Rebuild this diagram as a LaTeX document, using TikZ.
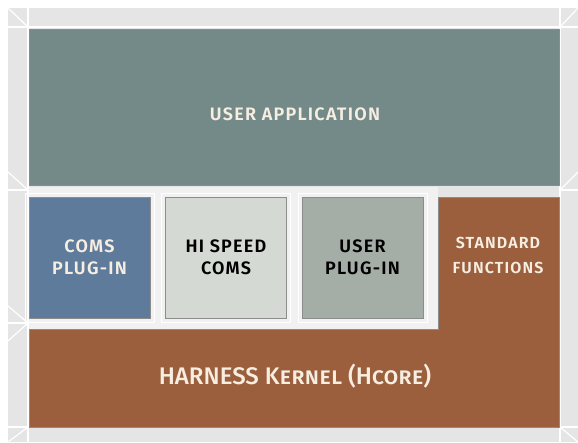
\documentclass[tikz,border=0pt]{standalone}
\usepackage{fontspec}
\setmainfont{Fira Sans}
\newfontfamily\boxfont[LetterSpace=7, BoldFont={Fira Sans SemiBold}]{Fira Sans}
\newfontfamily\kernelfont{Fira Sans Medium}
\usetikzlibrary{positioning}

\definecolor{bggray}{HTML}{E5E5E5}
\definecolor{bandwhite}{HTML}{F1F1F1}
\definecolor{appgray}{HTML}{748A88}
\definecolor{comsblue}{HTML}{5E7B9B}
\definecolor{speedgray}{HTML}{D4D9D3}
\definecolor{plugingray}{HTML}{A5ADA7}
\definecolor{kernelbrown}{HTML}{9C5F3D}
\definecolor{textcream}{HTML}{F7EEE2}

\tikzset{
	layerbox/.style={draw=black!45, line width=0.8pt, inner sep=0pt, outer sep=0pt,
		align=center, font=\boxfont\bfseries\fontsize{18}{22}\selectfont},
	plugbox/.style={layerbox, minimum width=121pt, minimum height=121pt, anchor=north west},
	gridline/.style={white, line width=1.2pt},
}

\begin{document}
\begin{tikzpicture}[x=1pt, y=-1pt]
	\def\XMIN{29}
	\def\XMAX{559}

	\useasboundingbox (0,0) rectangle (578,442);

	%背景
	\fill [bggray] (8,8) rectangle (578,442);
	\fill [bandwhite] (28,187) rectangle (438,329);
	\foreach \x in {28,560}
		\draw [gridline] (\x,8) -- (\x,442);
	\foreach \y in {27,427}
		\draw [gridline] (8,\y) -- (578,\y);
	\foreach \y in {190,323}
		\draw [gridline] (8,\y) -- (\XMIN,\y);
	\draw [gridline] (560,190) -- (578,190);
	\draw [gridline] (8,8) -- (28,27) (560,27) -- (578,8)
		(8,442) -- (28,427) (560,427) -- (578,442)
		(8,172) -- (28,190) (8,306) -- (28,323) (8,341) -- (28,323) (560,190) -- (578,172);

	%上层
	\node [layerbox, fill=appgray, text=textcream, anchor=north west,
		minimum width=530pt, minimum height=156pt] (userapp) at (\XMIN,29) {};
	\node [font=\boxfont\bfseries\fontsize{18}{22}\selectfont, text=textcream] (applabel)
		at (295,114) {USER APPLICATION};

	%中层
	\node [plugbox, fill=comsblue, text=textcream] (coms) at (\XMIN,197) {COMS\\PLUG-IN};
	\node [plugbox, fill=speedgray, text=black, right=15.5pt of coms.north east, anchor=north west]
		(hispeed) {HI SPEED\\COMS};
	\node [plugbox, fill=plugingray, text=black, right=15.5pt of hispeed.north east, anchor=north west]
		(userplug) {USER\\PLUG-IN};
	\foreach \b in {coms,hispeed,userplug}
		\draw [white, line width=1pt] ([shift={(-4pt,4pt)}]\b.north west) rectangle ([shift={(4pt,-4pt)}]\b.south east);

	%内核
	\draw [draw=black!45, line width=0.8pt, fill=kernelbrown]
		(438,197) -- (\XMAX,197) -- (\XMAX,427) -- (\XMIN,427) -- (\XMIN,329) -- (438,329) -- cycle;
	\node [align=center, text=textcream, font=\boxfont\bfseries\fontsize{16}{25}\selectfont]
		(stdfunc) at (498,255) {STANDARD\\FUNCTIONS};
	\node [text=textcream, font=\kernelfont\fontsize{24}{28}\selectfont]
		(kernel) at (295,376) {HARNESS K\textsc{ernel} (H\textsc{core})};

\end{tikzpicture}
\end{document}
